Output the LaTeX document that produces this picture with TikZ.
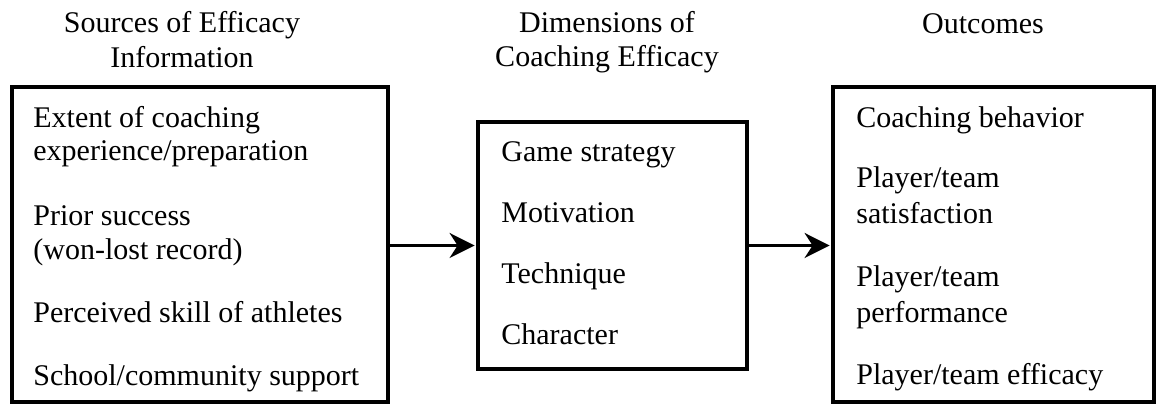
\documentclass[tikz,border=0pt]{standalone}
\usepackage{fontspec}
\setmainfont{LiberationSerif-Regular.ttf}
\usetikzlibrary{arrows.meta}

\begin{document}
\begin{tikzpicture}[x=0.5pt,y=-0.5pt,
  txt/.style={anchor=base west, inner sep=0pt, font=\fontsize{15}{17}\selectfont},
  head/.style={anchor=base, inner sep=0pt, font=\fontsize{15}{17}\selectfont},
  panel/.style={draw=black, line width=2.2pt, inner sep=0pt},
  link/.style={line width=1.5pt, -{Stealth[length=12.5pt, width=12.5pt, inset=4pt]}, shorten >=0.6pt}]

  \useasboundingbox (0,0) rectangle (1157,405);

  % column headings
  \node[head] (h1a) at (182,33) {Sources of Efficacy};
  \node[head] (h1b) at (182,68) {Information};
  \node[head] (h2a) at (607,33) {Dimensions of};
  \node[head] (h2b) at (607,67) {Coaching Efficacy};
  \node[head] (h3)  at (983,34) {Outcomes};

  % the three panels
  \node[panel, minimum width=188pt, minimum height=157.5pt] (src) at (200,244.5) {};
  \node[panel, minimum width=134.5pt, minimum height=123.5pt] (dim) at (612.5,245.5) {};
  \node[panel, minimum width=160.5pt, minimum height=157.5pt] (out) at (993.5,244.5) {};

  % sources of efficacy information
  \node[txt] (s1a) at (33,128) {Extent of coaching};
  \node[txt] (s1b) at (33,161) {experience/preparation};
  \node[txt] (s2a) at (33,226) {Prior success};
  \node[txt] (s2b) at (33,260) {(won-lost record)};
  \node[txt] (s3)  at (33,323) {Perceived skill of athletes};
  \node[txt] (s4)  at (33,386) {School/community support};

  % dimensions of coaching efficacy
  \node[txt] (d1) at (501,162) {Game strategy};
  \node[txt] (d2) at (501,223) {Motivation};
  \node[txt] (d3) at (501,284) {Technique};
  \node[txt] (d4) at (501,345) {Character};

  % outcomes
  \node[txt] (o1)  at (856,128) {Coaching behavior};
  \node[txt] (o2a) at (856,188) {Player/team};
  \node[txt] (o2b) at (856,224) {satisfaction};
  \node[txt] (o3a) at (856,287) {Player/team};
  \node[txt] (o3b) at (856,323) {performance};
  \node[txt] (o4)  at (856,385) {Player/team efficacy};

  % connectors
  \draw[link] (src.east |- dim.west) -- (dim.west);
  \draw[link] (dim.east) -- (out.west |- dim.east);
\end{tikzpicture}
\end{document}
